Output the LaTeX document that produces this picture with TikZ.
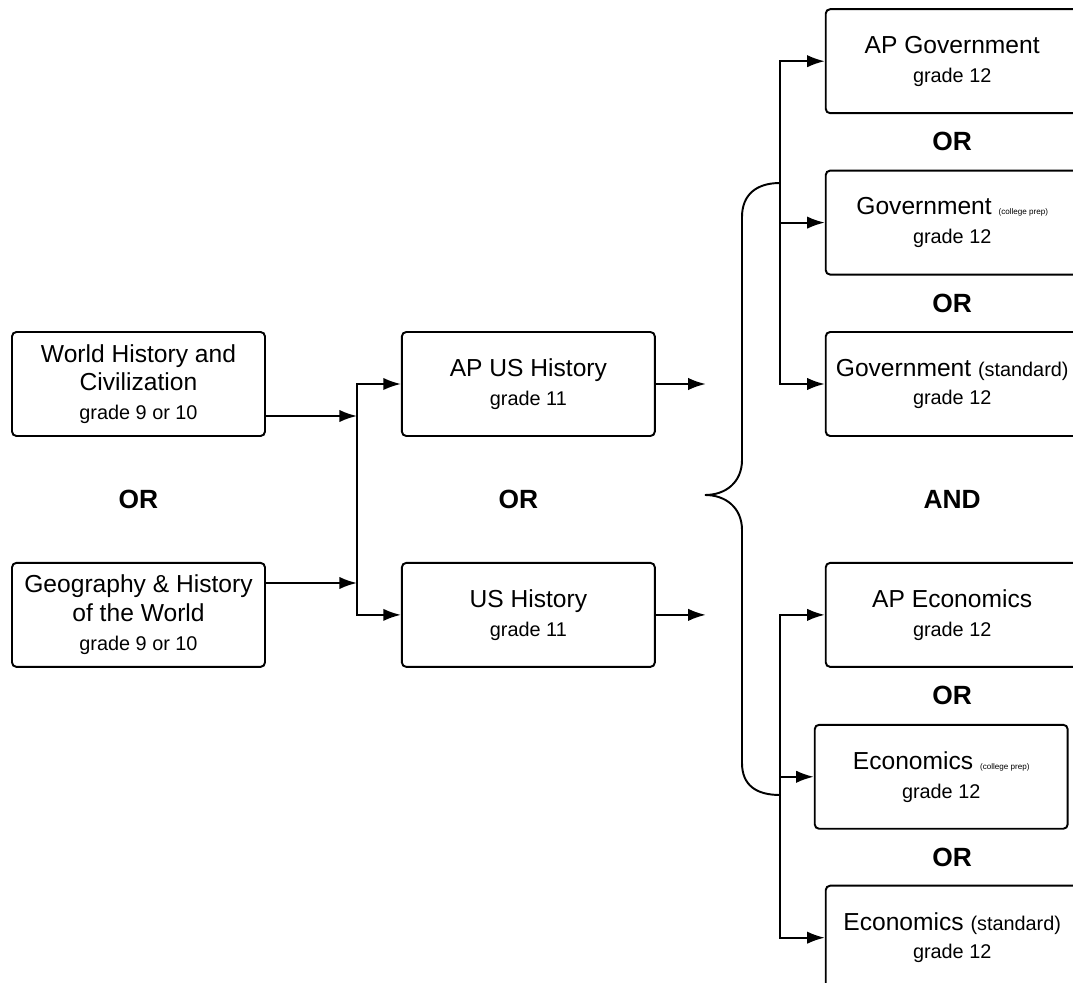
\documentclass[tikz,border=0pt]{standalone}
\usepackage{fontspec}
\setmainfont{Liberation Sans}
\usetikzlibrary{arrows.meta,positioning,calc}
\newcommand{\grd}{\fontsize{11.3}{14}\selectfont}
\newcommand{\cpfont}{\fontsize{4.6}{6}\selectfont}

\begin{document}
\begin{tikzpicture}[
  x=0.02cm, y=-0.02cm,
  >={Latex[length=10pt,width=7pt]},
  every node/.style={font=\fontsize{14}{16.4}\selectfont},
  course/.style={draw, line width=1.1pt, rounded corners=2.5pt, minimum width=5.06cm,
    minimum height=2.08cm, align=center, inner sep=1pt},
  orlbl/.style={font=\fontsize{15}{18}\selectfont\bfseries},
  link/.style={->, line width=1.1pt},
  brace/.style={line width=1.1pt},
]
\useasboundingbox (0,0) rectangle (1073,983);

% --- Grade 9/10 -----------------------------------------------
\node[course] (WH) at (138.5,384) {World History and\\Civilization\\{\grd grade 9 or 10}};
\node[course, below=2.50cm of WH] (Geo) {Geography \& History\\of the World\\{\grd grade 9 or 10}};

% --- Grade 11 -------------------------------------------------
\node[course, right=2.70cm of WH] (APUS) {AP US History\\{\grd grade 11}};
\node[course, right=2.70cm of Geo] (US) {US History\\{\grd grade 11}};

% --- Grade 12 government --------------------------------------
\node[course, right=3.38cm of APUS] (GovStd) {Government {\grd(standard)}\\{\grd grade 12}};
\node[course, above=1.11cm of GovStd] (GovCP) {Government {\cpfont(college prep)}\\{\grd grade 12}};
\node[course, above=1.11cm of GovCP] (APGov) {AP Government\\{\grd grade 12}};

% --- Grade 12 economics ---------------------------------------
\node[course, right=3.38cm of US] (APEcon) {AP Economics\\{\grd grade 12}};
\node[course, below=1.12cm of APEcon, xshift=-0.22cm] (EconCP) {Economics {\cpfont(college prep)}\\{\grd grade 12}};
\node[course, below=1.10cm of EconCP, xshift=0.22cm] (EconStd) {Economics {\grd(standard)}\\{\grd grade 12}};

% --- OR / AND labels ------------------------------------------
\node[orlbl] (or1) at ($(WH)!0.5!(Geo)$) {OR};
\node[orlbl, xshift=-0.2cm] (or2) at ($(APUS)!0.5!(US)$) {OR};
\node[orlbl] (or3) at ($(APGov.south)!0.5!(GovCP.north)$) {OR};
\node[orlbl] (or4) at ($(GovCP.south)!0.5!(GovStd.north)$) {OR};
\node[orlbl] (and) at ($(GovStd.south)!0.5!(APEcon.north)$) {AND};
\node[orlbl] (or5) at ($(APEcon.south)!0.5!(APEcon.south |- EconCP.north)$) {OR};
\node[orlbl] (or6) at ($(EconStd.north)!0.5!(EconStd.north |- EconCP.south)$) {OR};

% --- Connectors -----------------------------------------------
\coordinate (Jwh) at (357,416);
\coordinate (Jgeo) at (357,583);
\coordinate (J) at (357,497);
\draw[link] (WH.east |- Jwh) -- (Jwh);
\draw[link] (Geo.east |- Jgeo) -- (Jgeo);
\draw[link] (J) |- (APUS.west);
\draw[link] (J) |- (US.west);

\coordinate (APUSout) at ($(APUS.east)+(50,0)$);
\coordinate (USout) at ($(US.east)+(50,0)$);
\draw[link] (APUS.east) -- (APUSout);
\draw[link] (US.east) -- (USout);

% brace
\coordinate (BrTop) at (780,183);
\coordinate (BrBot) at (780,795);
\draw[brace] (BrTop) .. controls (756,183) and (742,195) .. (742,217) -- (742,460)
  .. controls (742,482) and (726,495) .. (705,495)
  .. controls (726,495) and (742,508) .. (742,530) -- (742,763)
  .. controls (742,785) and (756,795) .. (BrBot);

\draw[link] (BrTop) |- (APGov.west);
\draw[link] (BrTop) |- (GovCP.west);
\draw[link] (BrTop) |- (GovStd.west);
\draw[link] (BrBot) |- (APEcon.west);
\draw[link] (BrBot) |- (EconCP.west);
\draw[link] (BrBot) |- (EconStd.west);

\end{tikzpicture}
\end{document}
